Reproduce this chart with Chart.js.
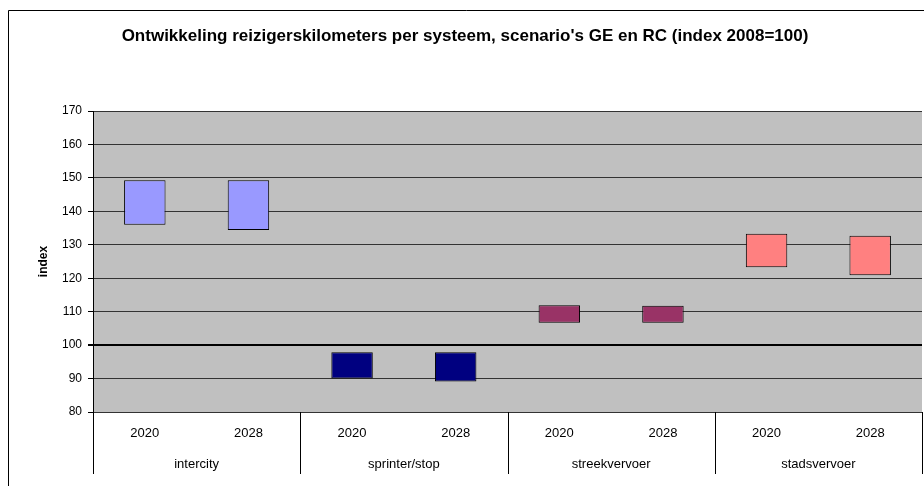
<!DOCTYPE html>
<html>
<head>
<meta charset="utf-8">
<script src="https://cdn.jsdelivr.net/npm/chart.js@4/dist/chart.umd.min.js"></script>
<style>
    html, body { margin: 0; padding: 0; background: #fff; }
    #wrap { width: 924px; height: 486px; }
</style>
</head>
<body>
<div id="wrap"><canvas id="chart" width="924" height="486"></canvas></div>
<script>
const systems = ['intercity', 'sprinter/stop', 'streekvervoer', 'stadsvervoer'];
const years = ['2020', '2028'];
const lowValues = [136.0, 134.4, 90.0, 89.1, 106.7, 106.7, 123.3, 120.9];
const highValues = [149.3, 149.3, 97.9, 97.9, 111.9, 111.8, 133.3, 132.7];
const systemColors = ['#9999FF', '#000080', '#993366', '#FF8080'];

const labels = [];
const ranges = [];
const barColors = [];
systems.forEach((s, i) => {
    years.forEach((y, j) => {
        const k = i * years.length + j;
        labels.push(y);
        ranges.push([lowValues[k], highValues[k]]);
        barColors.push(systemColors[i]);
    });
});

const FONT = 'Liberation Sans, Arial, sans-serif';

// frame, plot background, second level of the x axis
const excelLook = {
    id: 'excelLook',
    beforeDraw(chart) {
        const ctx = chart.ctx;
        const area = chart.chartArea;
        ctx.save();
        ctx.fillStyle = '#fff';
        ctx.fillRect(0, 0, chart.width, chart.height);
        ctx.strokeStyle = '#000';
        ctx.lineWidth = 1;
        ctx.beginPath();
        ctx.moveTo(8.5, chart.height);
        ctx.lineTo(8.5, 10.5);
        ctx.lineTo(chart.width, 10.5);
        ctx.stroke();
        ctx.fillStyle = '#C0C0C0';
        ctx.fillRect(area.left, area.top, area.right - area.left, area.bottom - area.top);
        ctx.restore();
    },
    afterDraw(chart) {
        const ctx = chart.ctx;
        const x = chart.scales.x;
        const area = chart.chartArea;
        const n = years.length;
        ctx.save();
        ctx.strokeStyle = '#000';
        ctx.lineWidth = 1;
        for (let i = 0; i <= systems.length; i++) {
            let px;
            if (i === 0) px = area.left;
            else if (i === systems.length) px = area.right;
            else px = (x.getPixelForValue(i * n - 1) + x.getPixelForValue(i * n)) / 2;
            px = Math.round(px) + 0.5;
            ctx.beginPath();
            ctx.moveTo(px, area.bottom);
            ctx.lineTo(px, area.bottom + 62);
            ctx.stroke();
        }
        ctx.fillStyle = '#000';
        ctx.font = '13px ' + FONT;
        ctx.textAlign = 'center';
        ctx.textBaseline = 'middle';
        systems.forEach((s, i) => {
            const cx = (x.getPixelForValue(i * n) + x.getPixelForValue(i * n + n - 1)) / 2;
            ctx.fillText(s, cx, area.bottom + 52);
        });
        ctx.restore();
    }
};

new Chart(document.getElementById('chart'), {
    type: 'bar',
    data: {
        labels: labels,
        datasets: [{
            data: ranges,
            backgroundColor: barColors,
            borderColor: '#000',
            borderWidth: 1,
            borderSkipped: false,
            categoryPercentage: 1,
            barPercentage: 0.4
        }]
    },
    options: {
        responsive: false,
        animation: false,
        layout: { padding: { left: 8, right: 2, top: 0, bottom: 0 } },
        plugins: {
            legend: { display: false },
            tooltip: { enabled: false },
            title: {
                display: true,
                text: "Ontwikkeling reizigerskilometers per systeem, scenario's GE en RC (index 2008=100)",
                color: '#000',
                font: { family: FONT, size: 17, weight: 'bold', lineHeight: 1.2 },
                padding: { top: 26, bottom: 64.6 }
            }
        },
        scales: {
            x: {
                grid: { display: false, drawTicks: false },
                border: { display: false },
                ticks: {
                    color: '#000',
                    font: { family: FONT, size: 13 },
                    padding: 14,
                    maxRotation: 0
                },
                afterFit(scale) { scale.height = 74; }
            },
            y: {
                min: 80,
                max: 170,
                ticks: {
                    stepSize: 10,
                    color: '#000',
                    font: { family: FONT, size: 12 },
                    padding: 6
                },
                grid: {
                    color: ctx => ctx.tick && ctx.tick.value === 100 ? '#000' : '#333',
                    lineWidth: ctx => ctx.tick && ctx.tick.value === 100 ? 2 : 1,
                    tickColor: '#000',
                    tickLength: 5
                },
                border: { color: '#000', width: 1 },
                title: {
                    display: true,
                    text: 'index',
                    color: '#000',
                    font: { family: FONT, size: 12, weight: 'bold' },
                    padding: { top: 28, bottom: 0 }
                },
                afterFit(scale) { scale.width = 85; }
            }
        }
    },
    plugins: [excelLook]
});
</script>
</body>
</html>
